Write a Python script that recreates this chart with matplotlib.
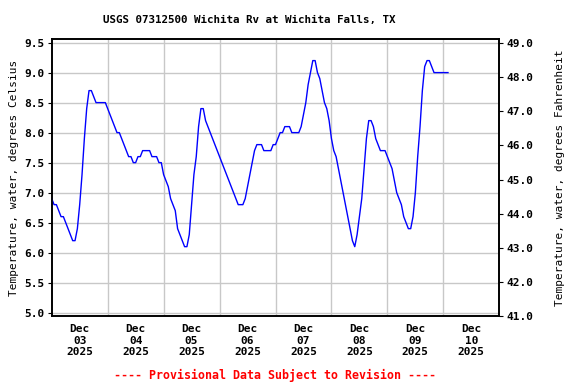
import numpy as np
import matplotlib
matplotlib.use("Agg")
import matplotlib.pyplot as plt
from matplotlib.ticker import FixedLocator, FormatStrFormatter

# hourly water temperature (deg C), starting Dec 03 00:00
dec03 = [6.9, 6.8, 6.8, 6.7, 6.6, 6.6, 6.5, 6.4, 6.3, 6.2, 6.2, 6.4,
         6.8, 7.3, 7.9, 8.4, 8.7, 8.7, 8.6, 8.5, 8.5, 8.5, 8.5, 8.5]
dec04 = [8.4, 8.3, 8.2, 8.1, 8.0, 8.0, 7.9, 7.8, 7.7, 7.6, 7.6, 7.5,
         7.5, 7.6, 7.6, 7.7, 7.7, 7.7, 7.7, 7.6, 7.6, 7.6, 7.5, 7.5]
dec05 = [7.3, 7.2, 7.1, 6.9, 6.8, 6.7, 6.4, 6.3, 6.2, 6.1, 6.1, 6.3,
         6.8, 7.3, 7.6, 8.1, 8.4, 8.4, 8.2, 8.1, 8.0, 7.9, 7.8, 7.7]
dec06 = [7.6, 7.5, 7.4, 7.3, 7.2, 7.1, 7.0, 6.9, 6.8, 6.8, 6.8, 6.9,
         7.1, 7.3, 7.5, 7.7, 7.8, 7.8, 7.8, 7.7, 7.7, 7.7, 7.7, 7.8]
dec07 = [7.8, 7.9, 8.0, 8.0, 8.1, 8.1, 8.1, 8.0, 8.0, 8.0, 8.0, 8.1,
         8.3, 8.5, 8.8, 9.0, 9.2, 9.2, 9.0, 8.9, 8.7, 8.5, 8.4, 8.2]
dec08 = [7.9, 7.7, 7.6, 7.4, 7.2, 7.0, 6.8, 6.6, 6.4, 6.2, 6.1, 6.3,
         6.6, 6.9, 7.4, 7.9, 8.2, 8.2, 8.1, 7.9, 7.8, 7.7, 7.7, 7.7]
dec09 = [7.6, 7.5, 7.4, 7.2, 7.0, 6.9, 6.8, 6.6, 6.5, 6.4, 6.4, 6.6,
         7.0, 7.6, 8.1, 8.7, 9.1, 9.2, 9.2, 9.1, 9.0, 9.0, 9.0, 9.0]
dec10 = [9.0, 9.0, 9.0]

day_labels = ["Dec\n03\n2025", "Dec\n04\n2025", "Dec\n05\n2025", "Dec\n06\n2025",
              "Dec\n07\n2025", "Dec\n08\n2025", "Dec\n09\n2025", "Dec\n10\n2025"]
c_ticks = [5.0, 5.5, 6.0, 6.5, 7.0, 7.5, 8.0, 8.5, 9.0, 9.5]
f_ticks = [41.0, 42.0, 43.0, 44.0, 45.0, 46.0, 47.0, 48.0, 49.0]

temps = dec03 + dec04 + dec05 + dec06 + dec07 + dec08 + dec09 + dec10
days = np.arange(len(temps)) / 24.0

font = {"family": "DejaVu Sans Mono", "weight": "bold"}
plt.rcParams["font.family"] = "DejaVu Sans Mono"
plt.rcParams["font.weight"] = "bold"

fig = plt.figure(figsize=(5.76, 3.84), dpi=100)
ax = fig.add_axes([0.0898, 0.1771, 0.777, 0.7206])

ax.plot(days, temps, color="#0000ff", linewidth=1.0, zorder=3)

ax.set_xlim(0, 8)
ax.set_ylim(4.945, 9.555)

# grid at midnight, labels at noon
ax.xaxis.set_major_locator(FixedLocator(np.arange(1, 8)))
ax.xaxis.set_minor_locator(FixedLocator(np.arange(8) + 0.5))
ax.set_xticklabels([])
ax.set_xticklabels(day_labels, minor=True, fontsize=8, linespacing=1.15)
ax.tick_params(axis="x", which="both", length=0, pad=6)
ax.grid(True, axis="x", which="major", color="#c8c8c8", linewidth=1)

ax.set_yticks(c_ticks)
ax.yaxis.set_major_formatter(FormatStrFormatter("%.1f"))
ax.tick_params(axis="y", length=3, labelsize=8, pad=2)
ax.grid(True, axis="y", color="#c8c8c8", linewidth=1)
ax.set_axisbelow(True)
ax.set_ylabel("Temperature, water, degrees Celsius", fontsize=8, labelpad=4)

ax2 = ax.twinx()
ax2.set_ylim(41.0, 49.11)
ax2.set_yticks(f_ticks)
ax2.yaxis.set_major_formatter(FormatStrFormatter("%.1f"))
ax2.tick_params(axis="y", length=3, labelsize=8, pad=2)
ax2.set_ylabel("Temperature, water, degrees Fahrenheit", fontsize=8, labelpad=16)

for a in (ax, ax2):
    for s in a.spines.values():
        s.set_linewidth(1.2)

fig.text(0.433, 0.948, "USGS 07312500 Wichita Rv at Wichita Falls, TX",
         ha="center", va="center", fontsize=7.8, **font)
fig.text(0.478, 0.022, "---- Provisional Data Subject to Revision ----",
         ha="center", va="center", fontsize=8.4, color="red", **font)

fig.savefig("out.png", dpi=100)
